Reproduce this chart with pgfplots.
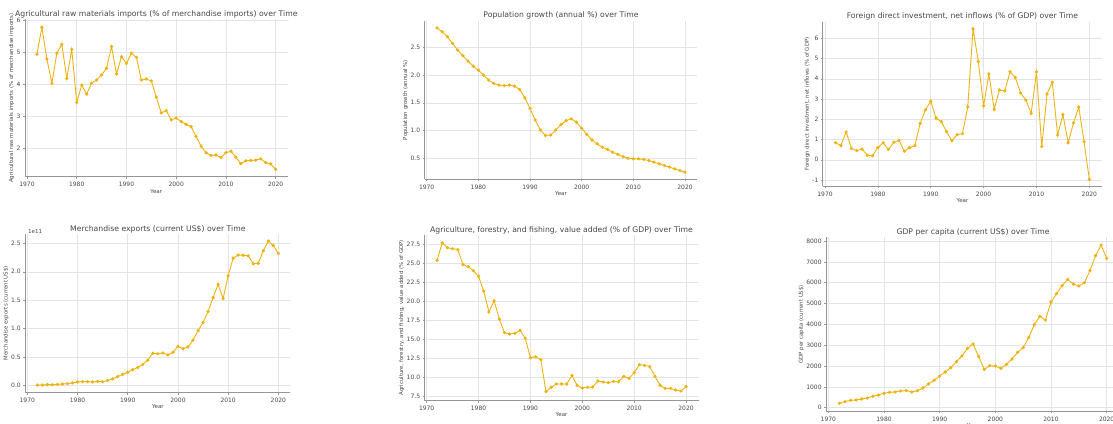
\documentclass[border=0pt]{standalone}
\usepackage{pgfplots}
\pgfplotsset{compat=1.18}
\usepackage{pgfplotstable}
\usepackage{fontspec}
\setmainfont{DejaVu Sans}
\definecolor{lc}{RGB}{238,178,17}
\definecolor{tc}{RGB}{70,70,70}
\definecolor{sc}{RGB}{150,150,150}
\definecolor{gc}{RGB}{228,228,228}

\pgfplotstableread{
year a
1972 4.95
1973 5.79
1974 4.80
1975 4.04
1976 4.98
1977 5.26
1978 4.19
1979 5.10
1980 3.44
1981 3.98
1982 3.70
1983 4.04
1984 4.14
1985 4.30
1986 4.51
1987 5.19
1988 4.33
1989 4.87
1990 4.66
1991 4.98
1992 4.85
1993 4.14
1994 4.17
1995 4.11
1996 3.60
1997 3.11
1998 3.18
1999 2.89
2000 2.95
2001 2.84
2002 2.75
2003 2.68
2004 2.37
2005 2.07
2006 1.86
2007 1.78
2008 1.79
2009 1.71
2010 1.86
2011 1.91
2012 1.72
2013 1.52
2014 1.61
2015 1.62
2016 1.63
2017 1.67
2018 1.55
2019 1.51
2020 1.34
}\tabA

\pgfplotstableread{
year a
1972 2.85
1973 2.78
1974 2.69
1975 2.57
1976 2.45
1977 2.35
1978 2.25
1979 2.16
1980 2.09
1981 2.00
1982 1.91
1983 1.85
1984 1.82
1985 1.81
1986 1.82
1987 1.80
1988 1.74
1989 1.59
1990 1.40
1991 1.19
1992 1.01
1993 0.91
1994 0.92
1995 1.01
1996 1.11
1997 1.18
1998 1.21
1999 1.15
2000 1.04
2001 0.93
2002 0.83
2003 0.76
2004 0.70
2005 0.66
2006 0.61
2007 0.57
2008 0.53
2009 0.50
2010 0.49
2011 0.49
2012 0.48
2013 0.46
2014 0.43
2015 0.40
2016 0.37
2017 0.34
2018 0.31
2019 0.28
2020 0.25
}\tabB

\pgfplotstableread{
year a
1972 0.84
1973 0.70
1974 1.37
1975 0.56
1976 0.45
1977 0.53
1978 0.22
1979 0.20
1980 0.60
1981 0.84
1982 0.51
1983 0.86
1984 0.96
1985 0.42
1986 0.60
1987 0.70
1988 1.80
1989 2.47
1990 2.89
1991 2.06
1992 1.88
1993 1.39
1994 0.94
1995 1.24
1996 1.29
1997 2.61
1998 6.46
1999 4.85
2000 2.66
2001 4.24
2002 2.49
2003 3.45
2004 3.40
2005 4.35
2006 4.06
2007 3.30
2008 2.95
2009 2.29
2010 4.34
2011 0.66
2012 3.25
2013 3.83
2014 1.22
2015 2.23
2016 0.84
2017 1.82
2018 2.61
2019 0.89
2020 -0.97
}\tabC

\pgfplotstableread{
year a
1972 0.010
1973 0.012
1974 0.018
1975 0.018
1976 0.022
1977 0.028
1978 0.035
1979 0.048
1980 0.065
1981 0.070
1982 0.070
1983 0.065
1984 0.075
1985 0.070
1986 0.090
1987 0.120
1988 0.160
1989 0.200
1990 0.235
1991 0.280
1992 0.320
1993 0.375
1994 0.450
1995 0.570
1996 0.560
1997 0.575
1998 0.540
1999 0.585
2000 0.690
2001 0.650
2002 0.680
2003 0.800
2004 0.965
2005 1.110
2006 1.300
2007 1.545
2008 1.780
2009 1.530
2010 1.930
2011 2.240
2012 2.295
2013 2.290
2014 2.280
2015 2.140
2016 2.150
2017 2.370
2018 2.540
2019 2.460
2020 2.320
}\tabD

\pgfplotstableread{
year a
1972 25.40
1973 27.70
1974 27.06
1975 26.93
1976 26.80
1977 24.83
1978 24.57
1979 24.04
1980 23.30
1981 21.37
1982 18.62
1983 20.10
1984 17.70
1985 15.90
1986 15.73
1987 15.82
1988 16.21
1989 15.16
1990 12.62
1991 12.75
1992 12.36
1993 8.16
1994 8.73
1995 9.17
1996 9.17
1997 9.17
1998 10.30
1999 8.99
2000 8.64
2001 8.73
2002 8.77
2003 9.56
2004 9.43
2005 9.34
2006 9.51
2007 9.47
2008 10.17
2009 9.90
2010 10.65
2011 11.70
2012 11.61
2013 11.44
2014 10.17
2015 8.99
2016 8.59
2017 8.59
2018 8.38
2019 8.24
2020 8.81
}\tabE

\pgfplotstableread{
year a
1972 208
1973 288
1974 352
1975 368
1976 416
1977 464
1978 544
1979 608
1980 688
1981 736
1982 752
1983 800
1984 816
1985 752
1986 816
1987 944
1988 1136
1989 1312
1990 1520
1991 1712
1992 1920
1993 2208
1994 2480
1995 2848
1996 3056
1997 2464
1998 1840
1999 2016
2000 2000
2001 1888
2002 2080
2003 2336
2004 2656
2005 2880
2006 3360
2007 3984
2008 4384
2009 4208
2010 5072
2011 5472
2012 5856
2013 6160
2014 5936
2015 5840
2016 6000
2017 6576
2018 7296
2019 7808
2020 7168
}\tabF

\pgfplotsset{
  panel/.style={
    anchor=south west, scale only axis,
    xmin=1969.6, xmax=2022.4,
    xtick={1970,1980,...,2020},
    axis x line*=bottom, axis y line*=left,
    axis line style={sc, line width=0.9pt},
    tick style={sc, line width=0.5pt},
    tick align=outside, major tick length=2pt,
    grid=major, grid style={gc, line width=0.5pt},
    ticklabel style={font=\fontsize{6}{7}\selectfont, text=tc},
    yticklabel style={xshift=1pt},
    /pgf/number format/assume math mode=true,
    /pgf/number format/set thousands separator={},
    xticklabel style={/pgf/number format/1000 sep={}},
    xlabel={Year},
    xlabel style={font=\fontsize{5.5}{6}\selectfont, text=tc, yshift=4.5pt},
    ylabel style={font=\fontsize{5.4}{6}\selectfont, text=tc, yshift=-4.5pt},
    title style={font=\fontsize{7.7}{8}\selectfont, text=tc, yshift=-8pt},
  },
  ser/.style={lc, line width=0.9pt, mark=*, mark size=1.15pt, mark options={lc}},
}

\begin{document}
\begin{tikzpicture}
\useasboundingbox (0pt,0pt) rectangle (1113pt,423pt);
\clip (0pt,0pt) rectangle (1113pt,423pt);

\begin{axis}[panel, at={(25pt,246.3pt)}, width=262.6pt, height=157.3pt,
  ymin=1.11, ymax=6.04, ytick={2,3,4,5,6},
  ylabel={Agricultural raw materials imports (\% of merchandise imports)},
  title={Agricultural raw materials imports (\% of merchandise imports) over Time}]
\addplot[ser] table[x=year,y=a] {\tabA};
\end{axis}

\begin{axis}[panel, at={(424.6pt,243.6pt)}, width=272.8pt, height=158.7pt,
  ymin=0.12, ymax=2.98, ytick={0.5,1.0,1.5,2.0,2.5},
  yticklabel style={/pgf/number format/fixed, /pgf/number format/fixed zerofill, /pgf/number format/precision=1},
  ylabel={Population growth (annual \%)},
  title={Population growth (annual \%) over Time}]
\addplot[ser] table[x=year,y=a] {\tabB};
\end{axis}

\begin{axis}[panel, at={(822.9pt,236.5pt)}, width=279.1pt, height=164.8pt,
  ymin=-1.32, ymax=6.82, ytick={-1,0,1,2,3,4,5,6},
  ylabel={Foreign direct investment, net inflows (\% of GDP)},
  title={Foreign direct investment, net inflows (\% of GDP) over Time}]
\addplot[ser] table[x=year,y=a] {\tabC};
\end{axis}

\begin{axis}[panel, at={(25.3pt,30.5pt)}, width=265.1pt, height=158.3pt,
  ymin=-0.12, ymax=2.66, ytick={0,0.5,1.0,1.5,2.0,2.5},
  clip=false,
  yticklabel style={/pgf/number format/fixed, /pgf/number format/fixed zerofill, /pgf/number format/precision=1},
  ylabel={Merchandise exports (current US\$)},
  title={Merchandise exports (current US\$) over Time}]
\addplot[ser] table[x=year,y=a] {\tabD};
\node[anchor=south west, font=\fontsize{5.5}{6}\selectfont, text=tc, inner sep=0pt] at (rel axis cs:0.01,1.005) {1e11};
\end{axis}

\begin{axis}[panel, at={(424.6pt,22.5pt)}, width=273.9pt, height=165.3pt,
  ymin=7.0, ymax=28.7, ytick={7.5,10,12.5,15,17.5,20,22.5,25,27.5},
  yticklabel style={/pgf/number format/fixed, /pgf/number format/fixed zerofill, /pgf/number format/precision=1},
  ylabel={Agriculture, forestry, and fishing, value added (\% of GDP)},
  title={Agriculture, forestry, and fishing, value added (\% of GDP) over Time}]
\addplot[ser] table[x=year,y=a] {\tabE};
\end{axis}

\begin{axis}[panel, at={(826.1pt,11.6pt)}, width=293.9pt, height=174.1pt,
  ymin=-180, ymax=8180, ytick={0,1000,...,8000},
  scaled y ticks=false,
  yticklabel style={/pgf/number format/fixed, /pgf/number format/1000 sep={}},
  ylabel={GDP per capita (current US\$)},
  title={GDP per capita (current US\$) over Time}]
\addplot[ser] table[x=year,y=a] {\tabF};
\end{axis}
\end{tikzpicture}
\end{document}
